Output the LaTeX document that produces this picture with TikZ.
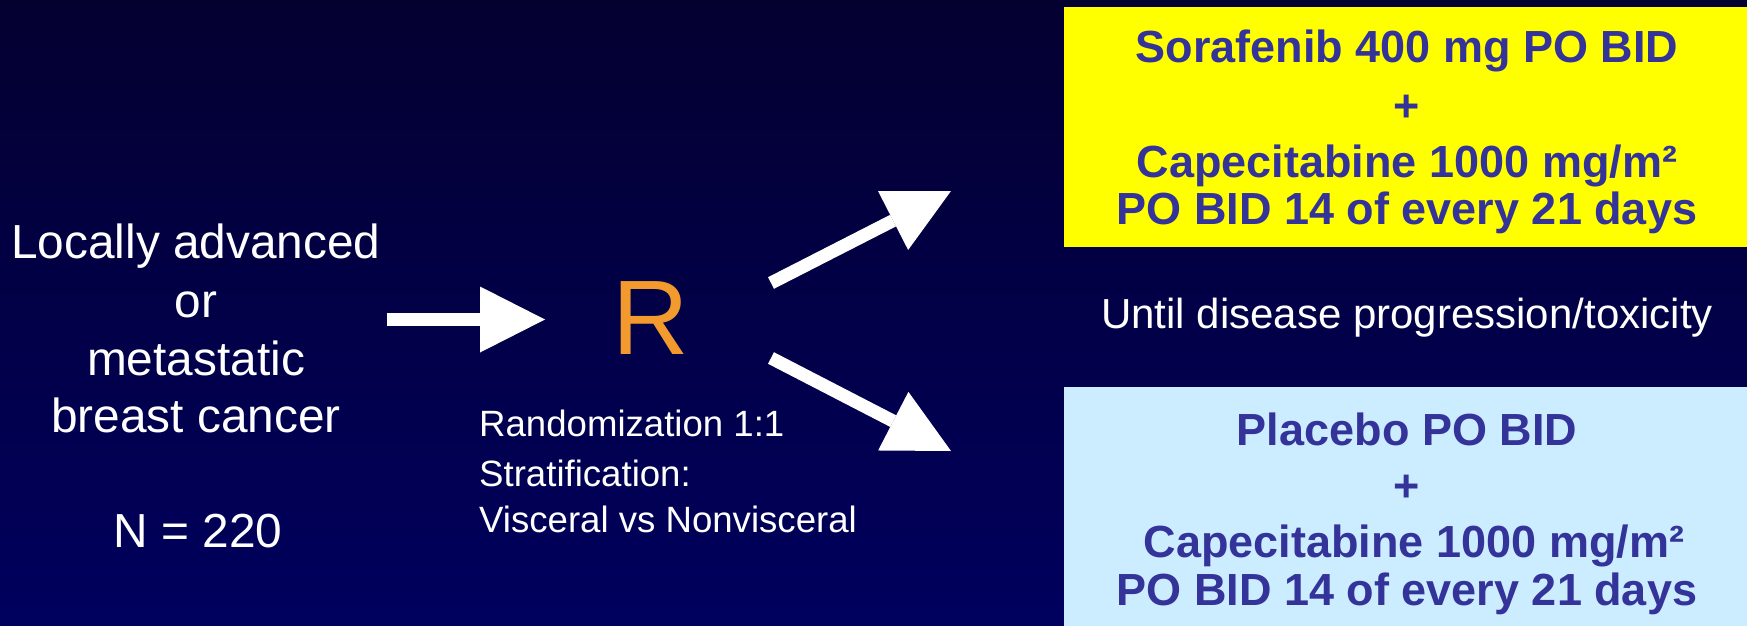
\documentclass[tikz,border=0pt]{standalone}
\usepackage{fontspec}
\setmainfont{Liberation Sans}
\usetikzlibrary{arrows.meta}
\definecolor{bgtop}{RGB}{4,0,48}
\definecolor{bgbot}{RGB}{0,0,94}
\definecolor{boxtext}{RGB}{51,51,153}
\definecolor{armyellow}{RGB}{255,255,0}
\definecolor{armblue}{RGB}{204,236,255}
\definecolor{rorange}{RGB}{242,154,46}
\begin{document}
\begin{tikzpicture}[x=1pt,y=-1pt,
  lefttext/.style={text=white,font=\fontsize{47.8}{58}\selectfont,anchor=base,inner sep=0pt},
  armtext/.style={text=boxtext,font=\fontsize{45}{54}\selectfont\bfseries,anchor=base,inner sep=0pt},
  notetext/.style={text=white,font=\fontsize{36.6}{44}\selectfont,anchor=base west,inner sep=0pt},
  untiltext/.style={text=white,font=\fontsize{42}{50}\selectfont,anchor=base,inner sep=0pt},
  armbox/.style={inner sep=0pt,anchor=north west,minimum width=683pt,draw=none},
  bigarrow/.style={white,line width=13pt,-{Triangle[length=65pt,width=66pt,line width=0pt]}}
]
\shade[top color=bgtop,bottom color=bgbot] (0,0) rectangle (1747,626);
\useasboundingbox (0,0) rectangle (1747,626);

% arm boxes
\node (armA) [armbox,fill=armyellow,minimum height=240pt] at (1064,7) {};
\node (armB) [armbox,fill=armblue,minimum height=239pt] at (1064,387) {};

% left column
\node (l1) [lefttext] at (196,258) {Locally advanced};
\node (l2) [lefttext] at (196,317) {or};
\node (l3) [lefttext] at (196,375) {metastatic};
\node (l4) [lefttext] at (196,432) {breast cancer};
\node (nn) [lefttext] at (198,547) {N = 220};

% R and notes
\node (R) [text=rorange,font=\fontsize{106}{120}\selectfont,anchor=base,inner sep=0pt] at (651,354) {R};
\node (n1) [notetext] at (479,436) {Randomization 1:1};
\node (n2) [notetext] at (479,486) {Stratification:};
\node (n3) [notetext] at (479,532) {Visceral vs Nonvisceral};

% until
\node (until) [untiltext] at (1407,328) {Until disease progression/toxicity};

% arm A text
\node (a1) [armtext] at (1407,63) {Sorafenib 400 mg PO BID};
\node (a2) [armtext] at (1407,121) {+};
\node (a3) [armtext] at (1407,177) {Capecitabine 1000 mg/m²};
\node (a4) [armtext] at (1407,224) {PO BID 14 of every 21 days};

% arm B text
\node (b1) [armtext] at (1407,445) {Placebo PO BID};
\node (b2) [armtext] at (1407,501) {+};
\node (b3) [armtext] at (1414,557) {Capecitabine 1000 mg/m²};
\node (b4) [armtext] at (1407,605) {PO BID 14 of every 21 days};

% arrows
\coordinate (h0) at (387,319.5);
\coordinate (h1) at (545,319.5);
\coordinate (u0) at (771,283);
\coordinate (u1) at (951,191);
\coordinate (d0) at (771,358);
\coordinate (d1) at (951,451);
\draw[bigarrow] (h0) -- (h1);
\draw[bigarrow] (u0) -- (u1);
\draw[bigarrow] (d0) -- (d1);
\end{tikzpicture}
\end{document}
